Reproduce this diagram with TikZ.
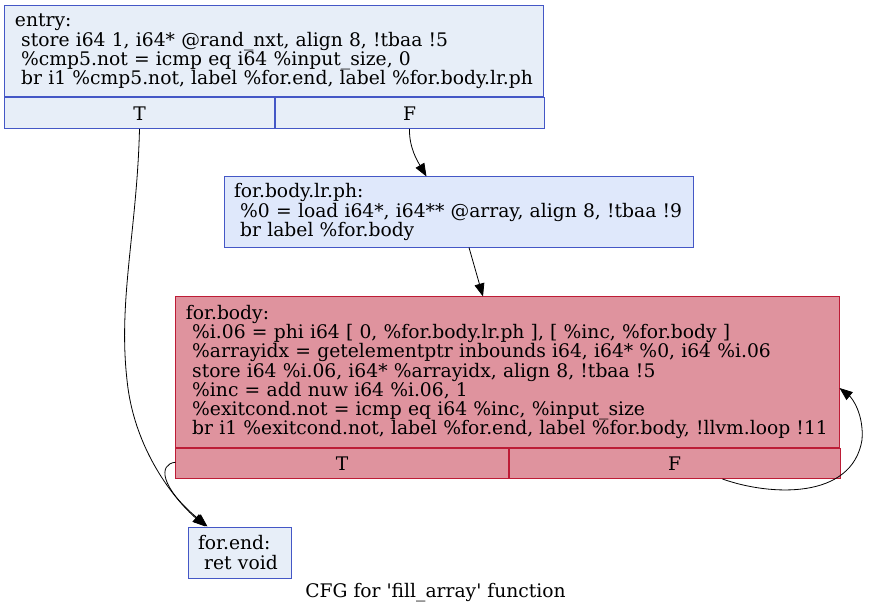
\documentclass[tikz,border=0pt]{standalone}
\usepackage{fontspec}
\setmainfont{DejaVu Serif}
\usepackage{tikz}
\usetikzlibrary{arrows.meta,positioning,calc}
\definecolor{coolline} {HTML}{4457C6}
\definecolor{coolfill} {HTML}{E7EEF8}
\definecolor{coolfillb}{HTML}{DFE8FB}
\definecolor{hotline}  {HTML}{BD1C36}
\definecolor{hotfill}  {HTML}{DF939E}

\begin{document}
\begin{tikzpicture}[x=1bp,y=-1bp,
    blk/.style={draw, line width=1bp, rectangle, inner xsep=10bp, inner ysep=0pt,
                align=left, font=\fontsize{18.7bp}{19.3bp}\selectfont},
    cell/.style={draw, line width=1bp, rectangle, inner sep=0pt, minimum height=30.5bp,
                 font=\fontsize{18.7bp}{19.3bp}\selectfont},
    edge/.style={line width=0.8bp, -{Triangle[length=13bp,width=10bp]}}]
  \useasboundingbox (0,0) rectangle (869,615);

  % basic blocks
  \node[blk, draw=coolline, fill=coolfill, minimum width=538bp, minimum height=91bp,
        text width=518bp] (entry) at (274,51.5)
    {entry:\\
     ~store i64 1, i64* @rand\_nxt, align 8, !tbaa !5\\
     ~\%cmp5.not = icmp eq i64 \%input\_size, 0\\
     ~br i1 \%cmp5.not, label \%for.end, label \%for.body.lr.ph};
  \node[cell, draw=coolline, fill=coolfill, minimum width=269bp, anchor=north west]
    (entryT) at (entry.south west) {T};
  \node[cell, draw=coolline, fill=coolfill, minimum width=269bp, anchor=north west]
    (entryF) at (entryT.north east) {F};

  \node[blk, draw=coolline, fill=coolfillb, minimum width=469bp, minimum height=70bp,
        text width=449bp] (lrph) at (458.5,212)
    {for.body.lr.ph:\\
     ~\%0 = load i64*, i64** @array, align 8, !tbaa !9\\
     ~br label \%for.body};

  \node[blk, draw=hotline, fill=hotfill, minimum width=663bp, minimum height=150bp,
        text width=643bp] (body) at (507.5,372)
    {for.body:\\
     ~\%i.06 = phi i64 [ 0, \%for.body.lr.ph ], [ \%inc, \%for.body ]\\
     ~\%arrayidx = getelementptr inbounds i64, i64* \%0, i64 \%i.06\\
     ~store i64 \%i.06, i64* \%arrayidx, align 8, !tbaa !5\\
     ~\%inc = add nuw i64 \%i.06, 1\\
     ~\%exitcond.not = icmp eq i64 \%inc, \%input\_size\\
     ~br i1 \%exitcond.not, label \%for.end, label \%for.body, !llvm.loop !11};
  \node[cell, draw=hotline, fill=hotfill, minimum width=332bp, anchor=north west]
    (bodyT) at (body.south west) {T};
  \node[cell, draw=hotline, fill=hotfill, minimum width=331bp, anchor=north west]
    (bodyF) at (bodyT.north east) {F};

  \node[blk, draw=coolline, fill=coolfill, minimum width=103bp, minimum height=51bp,
        text width=83bp] (forend) at (239.5,552.5)
    {for.end:\\
     ~ret void};

  \node[font=\fontsize{18.7bp}{19.3bp}\selectfont] (title) at (435.5,593)
    {CFG for \textquotesingle fill\_array\textquotesingle{} function};

  % edges
  \draw[edge] (entryT.south) .. controls (137,230) and (118,300) .. (127,380)
    .. controls (134,450) and (175,500) .. ([xshift=18bp]forend.north west);
  \draw[edge] (entryF.south) .. controls (409,148) and (418,162)
    .. ([xshift=203bp]lrph.north west);
  \draw[edge] ([xshift=10.5bp]lrph.south) -- ([xshift=-24.5bp]body.north);
  \draw[edge] ([yshift=1bp]bodyT.west) .. controls (158,464) and (160,487)
    .. ([xshift=20bp]forend.north west);
  \draw[edge] ([xshift=48bp]bodyF.south) .. controls (770,496) and (852,500) .. (862,440)
    .. controls (864,414) and (852,398) .. ([yshift=-16bp]body.east);
\end{tikzpicture}
\end{document}
